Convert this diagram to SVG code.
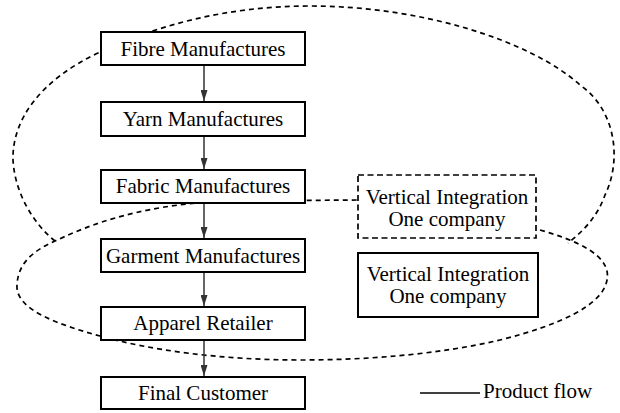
<svg xmlns="http://www.w3.org/2000/svg" width="620" height="413" viewBox="0 0 620 413">
<style>
.curve{fill:none;stroke:#000;stroke-width:1.7;stroke-dasharray:5,4}
.box{fill:#fff;stroke:#000;stroke-width:2}
.dbox{fill:#fff;stroke:#000;stroke-width:1.7;stroke-dasharray:6,3.5}
.lbl{font-family:"Liberation Serif","Times New Roman",serif;font-size:21px;fill:#000;text-anchor:middle}
.flow{stroke:#333;stroke-width:1.5;fill:none;marker-end:url(#ah)}
</style>
<defs>
<marker id="ah" markerUnits="userSpaceOnUse" markerWidth="11" markerHeight="7" refX="11" refY="3.5" orient="auto" viewBox="0 0 11 7">
<path d="M0,0 L11,3.5 L0,7 Z" fill="#333"/>
</marker>
</defs>
<g id="boundaries">
<path class="curve" d="M55,241 C35,225 15,195 13,160 C12,120 40,80 100,52 C160,24 230,6 310,6 C420,6 530,40 580,85 C616,110 622,160 605,195 C598,215 585,230 568,243"/>
<path class="curve" d="M540,230 C575,240 612,255 607,280 C603,305 560,325 500,340 C440,354 370,360 300,360 C220,360 150,350 100,336 C60,325 15,310 17,285 C18,262 35,250 55,241 C75,232 130,204 230,201 L358,200 L538,230"/>
</g>
<g id="connectors">
<line class="flow" x1="204" y1="66" x2="204" y2="101"/>
<line class="flow" x1="204" y1="137" x2="204" y2="169"/>
<line class="flow" x1="204" y1="204" x2="204" y2="238"/>
<line class="flow" x1="204" y1="273" x2="204" y2="306"/>
<line class="flow" x1="204" y1="341" x2="204" y2="376"/>
</g>
<g id="fibre"><rect class="box" x="101" y="32" width="204" height="33"/><text class="lbl" x="203" y="56">Fibre Manufactures</text></g>
<g id="yarn"><rect class="box" x="101" y="102" width="204" height="34"/><text class="lbl" x="203" y="126">Yarn Manufactures</text></g>
<g id="fabric"><rect class="box" x="101" y="170" width="204" height="33"/><text class="lbl" x="203" y="193">Fabric Manufactures</text></g>
<g id="garment"><rect class="box" x="101" y="239" width="204" height="33"/><text class="lbl" x="203" y="263">Garment Manufactures</text></g>
<g id="apparel"><rect class="box" x="101" y="307" width="204" height="33"/><text class="lbl" x="203" y="330">Apparel Retailer</text></g>
<g id="final"><rect class="box" x="101" y="377" width="204" height="32"/><text class="lbl" x="203" y="400">Final Customer</text></g>
<g id="vi-dashed"><rect class="dbox" x="358" y="175" width="178" height="63"/><text class="lbl" x="447" y="204">Vertical Integration</text><text class="lbl" x="447" y="226">One company</text></g>
<g id="vi-solid"><rect class="box" x="358" y="253" width="180" height="64"/><text class="lbl" x="448" y="281">Vertical Integration</text><text class="lbl" x="448" y="303">One company</text></g>
<g id="legend"><line x1="420" y1="393" x2="480" y2="393" stroke="#000" stroke-width="1.5"/><text x="483" y="398" font-family="Liberation Serif, Times New Roman, serif" font-size="21" fill="#000">Product flow</text></g>
</svg>
